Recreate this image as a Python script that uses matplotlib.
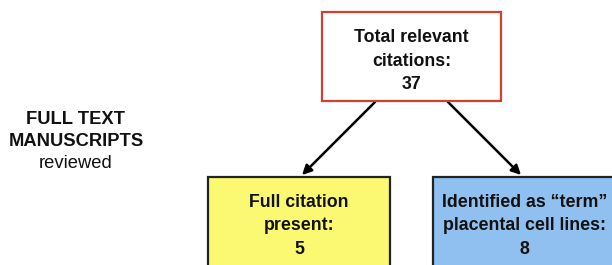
import matplotlib
matplotlib.use("Agg")
import matplotlib.pyplot as plt
from matplotlib.patches import Rectangle, FancyArrowPatch

# Data
side_label = ["FULL TEXT", "MANUSCRIPTS", "reviewed"]
box_titles = [["Total relevant", "citations:"],
              ["Full citation", "present:"],
              ["Identified as \u201cterm\u201d", "placental cell lines:"]]
box_counts = [37, 5, 8]

# Layout (pixel coordinates, y downward)
box_geom = [(322, 12, 501, 101), (208, 177, 390, 275), (433, 177, 616, 275)]
box_face = ["white", "#fbf872", "#8fc0f0"]
box_edge = ["#d04030", "#222222", "#222222"]
arrows = [((375, 102), (302, 175)), ((448, 102), (521, 175))]

plt.rcParams['font.family'] = ['Liberation Sans', 'DejaVu Sans']
fig = plt.figure(figsize=(6.12, 2.65), dpi=100)
ax = fig.add_axes([0, 0, 1, 1])
ax.set_xlim(0, 612)
ax.set_ylim(265, 0)
ax.axis('off')

for (x0, y0, x1, y1), fc, ec, title, cnt in zip(box_geom, box_face, box_edge, box_titles, box_counts):
    ax.add_patch(Rectangle((x0, y0), x1 - x0, y1 - y0, facecolor=fc, edgecolor=ec, lw=1.6, zorder=2))
    cx = (x0 + x1) / 2
    lines = title + [str(cnt)]
    base = y0 + 30
    for i, t in enumerate(lines):
        ax.text(cx, base + i * 23.5, t, ha='center', va='baseline', fontsize=12.8,
                fontweight='bold', color='#111111', zorder=3)

for (s, e) in arrows:
    ax.add_patch(FancyArrowPatch(s, e, arrowstyle='-|>', mutation_scale=14,
                                 lw=1.8, color='black', zorder=1, shrinkA=0, shrinkB=0))

for i, t in enumerate(side_label):
    ax.text(76, 124 + i * 22, t, ha='center', va='baseline', fontsize=13.2,
            fontweight='bold' if i < 2 else 'normal', color='#111111')

fig.savefig('out.png', dpi=100)
